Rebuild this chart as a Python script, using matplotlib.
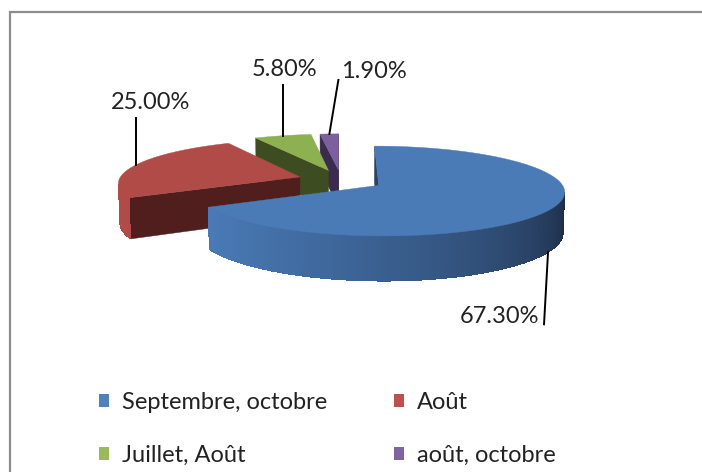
import matplotlib
matplotlib.use('Agg')
import matplotlib.pyplot as plt
from matplotlib.patches import Polygon, Patch
from matplotlib.colors import to_rgb
import numpy as np

plt.rcParams['font.family'] = ['Lato', 'DejaVu Sans']

labels = ['Septembre, octobre', 'Août', 'Juillet, Août', 'août, octobre']
values = [67.3, 25.0, 5.8, 1.9]
pct_labels = ['67.30%', '25.00%', '5.80%', '1.90%']

legend_colors = ['#4f81bd', '#c0504d', '#9bbb59', '#8064a2']
top_colors = ['#4a7bb7', '#b14b48', '#8db150', '#7b5f9e']
side_dark = ['#1d2d47', '#4f1e1d', '#3e4d21', '#3b2c4d']
cut_colors = ['#2a4468', '#4f1e1d', '#3e4d21', '#3b2c4d']

# 3d pie layout (pixel canvas)
W, Hpx = 702, 472
X0, Y0 = 341, 180          # screen position of pie origin (top face)
R = 181                    # radius in px at origin depth
ELEV = np.radians(13.7)
DIST = 7.9                 # camera distance in radius units
THICK = 0.225              # pie height in radius units
EXPLODE = 0.24

# leader line end offsets from the slice anchor, then text offset from line end
leader = [(-4, 72), (0, -47), (0, -51), (9, -54)]
text_off = [(-5, -8, 'right'), (15, -15, 'center'), (2, -15, 'center'), (36, -8, 'center')]


def proj(u, v, h):
    yc = v * np.sin(ELEV) + h * np.cos(ELEV)
    zc = DIST + v * np.cos(ELEV) - h * np.sin(ELEV)
    s = DIST / zc
    return X0 + R * u * s, Y0 - R * yc * s


cam = np.array([0.0, -DIST * np.cos(ELEV), DIST * np.sin(ELEV)])


def facing(normal, point):
    return np.dot(normal, cam - point) > 0


def mix(c1, c2, t):
    a, b = np.array(to_rgb(c1)), np.array(to_rgb(c2))
    return tuple(a + (b - a) * t)


fig = plt.figure(figsize=(W / 100, Hpx / 100), dpi=100)
ax = fig.add_axes([0, 0, 1, 1])
ax.set_xlim(0, W)
ax.set_ylim(Hpx, 0)
ax.axis('off')

# chart area border (top and left visible)
ax.plot([9.5, 9.5, W + 5], [Hpx + 5, 11.5, 11.5], color='#8c8c8c', lw=1.6,
        solid_joinstyle='miter')

# slice angles, clockwise from 12 o'clock
cum = np.concatenate([[0], np.cumsum(values)]) / sum(values) * 360
slices = []
for i in range(len(values)):
    a2 = 90 - cum[i]
    a1 = 90 - cum[i + 1]
    mid = np.radians((a1 + a2) / 2)
    cu, cv = EXPLODE * np.cos(mid), EXPLODE * np.sin(mid)
    slices.append((i, a1, a2, mid, cu, cv))

# back to front
order = sorted(slices, key=lambda s: -s[5])
for i, a1, a2, mid, cu, cv in order:
    th = np.radians(np.linspace(a1, a2, 240))
    # radial cut faces
    for ang, sgn in ((a1, 1), (a2, -1)):
        r = np.radians(ang)
        normal = np.array([sgn * np.sin(r), -sgn * np.cos(r), 0])
        if facing(normal, np.array([cu, cv, 0])):
            pts = [proj(cu, cv, 0), proj(cu + np.cos(r), cv + np.sin(r), 0),
                   proj(cu + np.cos(r), cv + np.sin(r), -THICK), proj(cu, cv, -THICK)]
            ax.add_patch(Polygon(pts, closed=True, fc=cut_colors[i], ec=cut_colors[i], lw=0.3))
    # outer wall: base band first, then shaded strips on top
    vis = []
    for k in range(len(th) - 1):
        tm = (th[k] + th[k + 1]) / 2
        normal = np.array([np.cos(tm), np.sin(tm), 0])
        p = np.array([cu + np.cos(tm), cv + np.sin(tm), 0])
        if facing(normal, p):
            vis.append(k)
    if vis:
        ks = np.arange(vis[0], vis[-1] + 2)
        top = [proj(cu + np.cos(th[k]), cv + np.sin(th[k]), 0) for k in ks]
        bot = [proj(cu + np.cos(th[k]), cv + np.sin(th[k]), -THICK) for k in ks[::-1]]
        base = mix(top_colors[i], side_dark[i], 0.5)
        ax.add_patch(Polygon(top + bot, closed=True, fc=base, ec='none'))
    for k in vis:
        tm = (th[k] + th[k + 1]) / 2
        deg = np.degrees(tm) % 360
        t = np.clip((deg - 205) / 145, 0, 1) ** 1.3
        col = mix(top_colors[i], side_dark[i], t)
        q = [proj(cu + np.cos(th[k]), cv + np.sin(th[k]), 0),
             proj(cu + np.cos(th[k + 1]), cv + np.sin(th[k + 1]), 0),
             proj(cu + np.cos(th[k + 1]), cv + np.sin(th[k + 1]), -THICK),
             proj(cu + np.cos(th[k]), cv + np.sin(th[k]), -THICK)]
        ax.add_patch(Polygon(q, closed=True, fc=col, ec='none', antialiased=False))
    # top face
    pts = [proj(cu, cv, 0)] + [proj(cu + np.cos(t_), cv + np.sin(t_), 0) for t_ in th]
    ax.add_patch(Polygon(pts, closed=True, fc=top_colors[i], ec=top_colors[i], lw=0.3))

# data labels with leader lines
for i, a1, a2, mid, cu, cv in slices:
    h = -THICK if np.sin(mid) < 0 else 0
    ax0, ay0 = proj(cu + np.cos(mid), cv + np.sin(mid), h)
    lx, ly = ax0 + leader[i][0], ay0 + leader[i][1]
    ax.plot([ax0, lx], [ay0, ly], color='black', lw=1.4)
    dx, dy, ha = text_off[i]
    ax.text(lx + dx, ly + dy, pct_labels[i], ha=ha, va='center', fontsize=17,
            color='#222222')

# legend filled row by row
handles = [Patch(fc=c, ec='none') for c in legend_colors]
idx = [0, 2, 1, 3]
ax.legend([handles[k] for k in idx], [labels[k] for k in idx], ncol=2,
          loc='upper left', bbox_to_anchor=(87 / W, 1 - 380 / Hpx),
          frameon=False, fontsize=17, borderpad=0, handlelength=0.45, handleheight=0.45,
          handletextpad=0.55, columnspacing=2.8, labelspacing=1.35, labelcolor='#222222')

fig.savefig('out.png', dpi=100)
